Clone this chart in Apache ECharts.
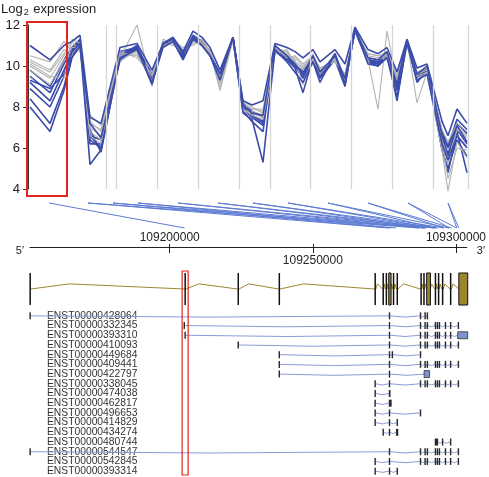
<!DOCTYPE html>
<html><head><meta charset="utf-8">
<script src="https://cdn.jsdelivr.net/npm/echarts@6/dist/echarts.min.js"></script>
<style>html,body{margin:0;padding:0;background:#fff}#c{width:489px;height:477px}</style>
</head><body><div id="c"></div>
<script>
// ---------- data ----------
const probePos = [2,22,36,44,52,62,73,92,109,124,135,145,155,165,174,182,192,205,215,224,235,247,259,267,275,285,292,307,317,327,340,350,359,369,379,389,399,414,420,429,439];
const groupBounds = [78,88,129,170,211,242,282,323,364,405,440];
const yTicks = [4,6,8,10,12];

const gray1 = [10.3,9.8,10.8,10.6,11.1,7.3,6.8,10.7,10.4,9.5,11.1,11.0,10.8,11.1,11.2,10.5,9.6,11.2,8.2,7.9,7.8,10.9,10.4,10.5,10.1,10.5,9.9,10.2,9.6,11.7,10.6,10.5,10.7,9.5,11.0,9.7,9.9,6.6,5.4,6.9,6.5];
const gray2 = [10.0,9.4,10.5,10.9,10.9,6.8,6.4,10.4,10.7,9.1,10.9,11.3,10.6,11.3,11.0,10.8,9.3,11.4,7.8,7.7,7.5,10.7,10.7,10.2,9.9,10.3,9.7,10.4,9.4,11.8,10.4,10.3,10.5,9.3,11.2,9.5,9.7,6.2,5.8,6.6,6.1];
const gray3 = [10.5,10.2,11.2,10.7,11.0,7.6,7.1,10.6,10.5,9.6,11.0,11.1,10.6,11.2,11.1,10.6,9.5,11.3,8.1,7.9,7.9,10.8,10.5,10.4,10.0,10.4,9.8,10.3,9.5,11.8,10.5,10.4,10.6,9.4,11.1,9.6,9.8,6.9,6.3,7.2,6.8];
const gray4 = [9.8,9.1,10.3,10.5,10.8,6.6,6.2,10.2,10.8,9.2,11.2,11.2,10.9,11.0,11.3,10.7,9.1,11.2,7.9,7.6,7.4,10.6,10.8,10.1,9.8,10.6,9.6,10.5,9.2,11.7,10.3,7.9,11.7,9.2,11.0,9.4,9.6,5.9,3.9,6.3,5.5];
const gray5 = [10.2,9.7,10.6,11.2,10.7,7.2,6.9,10.5,10.6,9.3,10.9,11.2,10.7,11.2,11.1,10.7,8.8,11.3,8.3,8.0,7.7,10.8,10.6,10.3,9.1,10.4,9.8,10.3,9.6,11.8,10.6,10.5,10.5,9.5,11.1,9.7,9.9,6.5,5.2,7.0,6.6];
const gray6 = [10.1,9.5,9.4,11.3,11.1,7.0,6.6,10.4,12.0,9.0,11.3,11.1,10.7,11.3,11.0,10.7,8.9,11.4,7.8,7.8,7.6,10.9,10.7,10.2,9.9,10.5,9.9,10.3,9.4,11.8,10.4,10.3,10.6,9.2,11.2,8.2,9.7,6.3,4.5,6.0,5.9];

const blue1 = [11.0,10.3,11.0,11.2,11.5,7.5,7.2,10.9,11.1,9.8,11.1,11.4,10.7,11.7,11.4,10.9,9.8,11.4,8.3,8.1,8.3,11.1,10.9,10.7,10.4,10.8,10.2,10.8,10.1,11.9,10.8,10.6,10.9,9.7,11.3,9.9,10.1,7.3,6.6,7.9,7.2];
const blue2 = [9.8,9.0,10.3,10.9,11.3,6.4,6.0,10.6,10.8,9.5,11.0,11.3,10.5,11.5,11.2,10.7,9.4,11.3,7.9,7.5,7.1,10.9,10.3,10.1,9.5,10.3,9.5,10.4,9.2,11.7,10.2,10.1,10.5,8.9,11.2,9.4,9.8,6.8,6.1,7.4,6.9];
const blue3 = [9.2,8.3,9.8,10.7,11.1,5.2,5.9,10.4,10.8,9.2,10.9,11.2,10.3,11.3,11.0,10.5,9.3,11.4,7.7,7.4,5.3,10.8,10.2,9.7,9.2,10.2,9.2,10.6,9.1,11.8,10.1,10.0,10.4,8.5,11.1,9.3,9.6,6.2,5.4,6.6,6.0];
const blue4 = [8.9,8.0,9.5,10.6,11.0,6.9,5.8,10.5,11.0,9.3,11.0,11.3,10.4,11.4,11.1,10.6,9.5,11.4,8.0,7.6,7.3,10.7,10.3,9.9,8.7,10.4,9.4,10.3,9.0,11.8,10.2,10.0,10.6,8.3,11.2,9.2,9.8,5.9,5.0,6.4,5.6];
const blue5 = [8.0,6.8,8.8,10.4,11.0,7.2,6.5,10.3,10.9,9.1,11.1,11.3,10.6,11.4,11.0,10.5,9.6,11.4,8.1,7.7,7.6,11.0,10.5,10.1,9.6,10.5,9.7,10.5,9.4,11.8,10.4,10.3,10.7,9.1,11.3,9.6,10.0,6.6,5.7,7.1,6.3];
const blue6 = [9.5,8.7,10.1,10.8,11.2,6.2,6.2,10.7,10.9,9.6,11.0,11.3,10.4,11.4,11.1,10.6,9.4,11.4,7.8,7.3,6.8,11.0,10.5,10.0,9.8,10.4,9.7,10.4,9.3,11.7,10.3,10.1,10.6,9.0,11.2,9.5,9.9,6.0,4.8,6.8,4.8];
const blue7 = [8.4,7.2,9.0,10.5,11.1,6.6,6.4,10.6,10.8,9.3,11.0,11.2,10.5,11.3,11.2,10.6,9.6,11.3,8.2,7.8,7.5,10.9,10.4,10.0,9.7,10.3,9.5,10.6,9.3,11.8,10.3,10.2,10.6,9.1,11.2,9.5,9.9,6.7,6.0,7.2,6.7];
const blue8 = [9.3,8.9,9.6,10.7,11.2,6.6,6.0,10.5,10.9,9.4,11.0,11.3,10.5,11.4,11.1,10.6,9.5,11.4,8.0,7.6,7.2,10.9,10.4,10.0,9.4,10.4,9.6,10.5,9.3,11.8,10.3,10.2,10.6,8.8,11.2,9.5,9.9,6.4,5.6,6.9,6.2];

const highlightProbes = [-1, 39];
const highlightExpr = [3.66, 12.15];

const genomeMin = 109151200, genomeMax = 109303800;
const rulerLabelsAbove = [109200000, 109300000];
const rulerLabelsBelow = [109250000];
const rulerTicks = [109200000, 109250000, 109300000];

// probe group centre -> genomic position of the exon it maps to
const connectors = [
  [21,109205200],
  [60,109276300],[60,109287100],
  [85,109277300],[85,109288800],
  [110,109279100],[110,109289500],
  [150,109287100],[150,109292300],
  [190,109288800],[190,109293000],
  [225,109289500],[225,109293700],
  [260,109292300],[260,109295800],
  [300,109293000],[300,109297600],
  [340,109295800],[340,109298500],
  [380,109297600],[380,109300300],
  [420,109300300],[420,109301000]
];

// gene model exons [start, end, kind] kind 1 = filled box
const geneExons = [
  [109151000,109151500,0],[109205000,109205500,0],[109223500,109224000,0],[109237800,109238300,0],
  [109271200,109271700,0],[109274000,109274500,0],[109275100,109275600,0],[109276200,109277000,1],
  [109277600,109278100,0],[109278900,109279400,0],[109287200,109287700,0],[109288200,109288700,0],
  [109289400,109290700,1],[109292200,109292700,0],[109293300,109293800,0],[109294700,109295200,0],
  [109297500,109298000,0],[109300600,109303700,1]
];
const highlightExon = [109204200, 109206300];

const transcriptNames = ['ENST00000428064','ENST00000332345','ENST00000393310','ENST00000410093','ENST00000449684','ENST00000409441','ENST00000422797','ENST00000338045','ENST00000474038','ENST00000462817','ENST00000496653','ENST00000414829','ENST00000434274','ENST00000480744','ENST00000544547','ENST00000542845','ENST00000393314'];
const tail3 = [[109287000,109287500,0],[109288600,109289100,0],[109289400,109289900,0],[109292200,109292700,0],[109292900,109293400,0],[109293600,109294100,0],[109295700,109296200,0],[109297500,109298000,0]];
const lastExon = [109300200,109300700,0];
const ex389 = [109276200,109276700,0];
const transcriptExons = [
  [[109151000,109151500,0], ex389, [109287000,109287500,0],[109288600,109289100,0],[109289400,109289900,0]],
  [[109204700,109205200,0], ex389, ...tail3, lastExon],
  [[109205000,109205500,0], ex389, ...tail3, [109300200,109303700,1]],
  [[109223500,109224000,0], ex389, ...tail3, lastExon],
  [[109237800,109238300,0], ex389, [109277200,109277700,0], [109287000,109287500,0]],
  [[109237800,109238300,0], ex389, ...tail3, lastExon],
  [[109237800,109238300,0], ex389, [109288500,109290400,1]],
  [[109271200,109271700,0], ex389, ...tail3, lastExon],
  [[109271200,109271700,0], [109276200,109276800,0]],
  [[109271200,109271700,0], [109276200,109277200,0]],
  [[109271200,109271700,0], ex389, [109287000,109287500,0]],
  [[109271200,109271700,0], ex389, [109278900,109279400,0]],
  [[109274000,109274500,0], ex389, [109278700,109279500,0]],
  [[109292200,109293400,0], [109294700,109295200,0], [109297500,109298000,0]],
  [[109151000,109151500,0], ex389, ...tail3, lastExon],
  [[109271200,109271700,0], ex389, ...tail3, lastExon],
  [[109271200,109271700,0], ex389, [109278900,109279400,0]]
];

// ---------- chart ----------
const BLUE = '#3a4bab', GRAY = '#b3b3b3', OLIVE = '#9c8630', CONN = '#5d7bd3', TLINE = '#8a9bd9', RED = '#e3241c';
const FONT = 'Liberation Sans';
const chart = echarts.init(document.getElementById('c'));
const plain = v => String(v);

function lineSeries(vals, color, width, z) {
  return { type: 'line', xAxisIndex: 0, yAxisIndex: 0, data: probePos.map((p, i) => [p, vals[i]]),
    symbol: 'none', clip: false, silent: true, z: z,
    lineStyle: { color: color, width: width }, emphasis: { disabled: true } };
}

const option = {
  animation: false,
  title: { text: '{a|Log}{b|2}{a| expression}', left: 1, top: 1, padding: 0,
    textStyle: { fontWeight: 'normal', rich: {
      a: { fontSize: 13, fontFamily: FONT, fontWeight: 'normal', color: '#222', lineHeight: 16 },
      b: { fontSize: 9, fontFamily: FONT, fontWeight: 'normal', color: '#222', lineHeight: 16, padding: [7, 1, 0, 1] } } } },
  grid: [
    { left: 28, right: 21, top: 25, height: 164 },
    { left: 28, right: 21, top: 203, height: 25 },
    { left: 30, right: 21, top: 246, height: 1 },
    { left: 30, right: 21, top: 273, height: 32 },
    { left: 30, right: 21, top: 311, height: 165 }
  ],
  xAxis: [
    { gridIndex: 0, type: 'value', min: 0, max: 440, show: false },
    { gridIndex: 1, type: 'value', min: 0, max: 440, show: false },
    { gridIndex: 2, type: 'value', min: genomeMin, max: genomeMax, position: 'top',
      axisLine: { show: false }, splitLine: { show: false },
      axisTick: { show: true, length: 3, customValues: rulerTicks, lineStyle: { color: '#222' } },
      axisLabel: { customValues: rulerLabelsAbove, formatter: plain, fontSize: 12, fontFamily: FONT, color: '#222', margin: 2 },
      name: '5′', nameLocation: 'start', nameGap: 6,
      nameTextStyle: { fontSize: 11, fontFamily: FONT, color: '#222', verticalAlign: 'top', lineHeight: 8 } },
    { gridIndex: 2, type: 'value', min: genomeMin, max: genomeMax, position: 'bottom',
      axisLine: { show: true, lineStyle: { color: '#222', width: 1 } }, splitLine: { show: false },
      axisTick: { show: true, length: 6, customValues: rulerTicks, lineStyle: { color: '#222' } },
      axisLabel: { customValues: rulerLabelsBelow, formatter: plain, fontSize: 12, fontFamily: FONT, color: '#222', margin: 8 },
      name: '3′', nameLocation: 'end', nameGap: 10,
      nameTextStyle: { fontSize: 11, fontFamily: FONT, color: '#222', verticalAlign: 'top', lineHeight: 8 } },
    { gridIndex: 3, type: 'value', min: genomeMin, max: genomeMax, show: false },
    { gridIndex: 4, type: 'value', min: genomeMin, max: genomeMax, show: false }
  ],
  yAxis: [
    { gridIndex: 0, type: 'value', min: 4, max: 12, interval: 2,
      axisLine: { show: true, lineStyle: { color: '#333', width: 1 } },
      axisTick: { show: true, length: 5, lineStyle: { color: '#333' } },
      splitLine: { show: false },
      axisLabel: { fontSize: 13, fontFamily: FONT, color: '#222', margin: 8 } },
    { gridIndex: 1, type: 'value', min: 0, max: 1, show: false },
    { gridIndex: 2, type: 'value', min: 0, max: 1, show: false },
    { gridIndex: 3, type: 'value', min: 0, max: 1, show: false },
    { gridIndex: 4, type: 'category', data: transcriptNames, inverse: true,
      axisLine: { show: false }, axisTick: { show: false }, splitLine: { show: false },
      axisLabel: { inside: true, interval: 0, margin: 17, fontSize: 10.3, fontFamily: FONT, color: '#333' } }
  ],
  series: [
    { type: 'line', xAxisIndex: 0, yAxisIndex: 0, data: [], z: 1, silent: true,
      markLine: { silent: true, symbol: ['none', 'none'], label: { show: false }, animation: false,
        lineStyle: { color: '#d6d6d6', width: 1.3, type: 'solid' },
        emphasis: { disabled: true },
        data: groupBounds.map(v => ({ xAxis: v })) } },
    lineSeries(blue2, BLUE, 1.6, 2),
    lineSeries(blue4, BLUE, 1.6, 2),
    lineSeries(blue6, BLUE, 1.6, 2),
    lineSeries(blue8, BLUE, 1.6, 2),
    lineSeries(blue7, BLUE, 1.6, 2),
    lineSeries(gray1, GRAY, 1.1, 3),
    lineSeries(gray2, GRAY, 1.1, 3),
    lineSeries(gray3, GRAY, 1.1, 3),
    lineSeries(gray4, GRAY, 1.1, 3),
    lineSeries(gray5, GRAY, 1.1, 3),
    lineSeries(gray6, GRAY, 1.1, 3),
    lineSeries(blue1, BLUE, 1.6, 4),
    lineSeries(blue3, BLUE, 1.6, 4),
    lineSeries(blue5, BLUE, 1.6, 4),
    // red highlight box, top panel
    { type: 'custom', xAxisIndex: 0, yAxisIndex: 0, clip: false, z: 10, silent: true,
      data: [[highlightProbes[0], highlightExpr[1]]], encode: { x: 0, y: 1 },
      renderItem: (p, api) => {
        const a = api.coord([highlightProbes[0], highlightExpr[1]]);
        const b = api.coord([highlightProbes[1], highlightExpr[0]]);
        return { type: 'rect', shape: { x: a[0], y: a[1], width: b[0] - a[0], height: b[1] - a[1] },
          style: { fill: 'none', stroke: RED, lineWidth: 2 } };
      } },
    // connectors probes -> genome
    { type: 'custom', xAxisIndex: 1, yAxisIndex: 1, clip: false, z: 3, silent: true,
      data: connectors.map(c => [c[0], 1, c[1]]), encode: { x: 0, y: 1 },
      renderItem: (p, api) => {
        const top = api.coord([api.value(0), 1]);
        const yb = api.coord([api.value(0), 0])[1];
        let xb = null;
        try { xb = chart.convertToPixel({ xAxisIndex: 2 }, api.value(2)); } catch (e) { xb = null; }
        if (xb == null || isNaN(xb)) return null;
        return { type: 'line', shape: { x1: top[0], y1: top[1], x2: xb, y2: yb },
          style: { stroke: CONN, lineWidth: 1 } };
      } },
    // gene model
    { type: 'custom', xAxisIndex: 4, yAxisIndex: 3, clip: false, z: 3, silent: true,
      data: [[genomeMin, 0]], encode: { x: 0, y: 1 },
      renderItem: (p, api) => {
        const yMid = api.coord([genomeMin, 0.5])[1], yPk = api.coord([genomeMin, 0.66])[1];
        const yT = api.coord([genomeMin, 1])[1], yB = api.coord([genomeMin, 0])[1];
        const pts = [];
        const kids = [];
        geneExons.forEach((e, i) => {
          const x0 = api.coord([e[0], 0])[0];
          if (i > 0) {
            const pe = api.coord([geneExons[i - 1][1], 0])[0];
            pts.push([pe, yMid], [pe + (x0 - pe) * 0.25, yPk], [x0, yMid]);
          }
        });
        kids.push({ type: 'polyline', shape: { points: pts }, style: { stroke: OLIVE, lineWidth: 1, fill: null } });
        geneExons.forEach(e => {
          const x0 = api.coord([e[0], 0])[0], x1 = api.coord([e[1], 0])[0];
          const w = Math.max(x1 - x0, 1.5);
          kids.push({ type: 'rect', shape: { x: x0, y: yT, width: w, height: yB - yT },
            style: e[2] ? { fill: OLIVE, stroke: '#111', lineWidth: 1 } : { fill: '#111' } });
        });
        return { type: 'group', children: kids };
      } },
    // transcripts
    { type: 'custom', xAxisIndex: 5, yAxisIndex: 4, clip: false, z: 3, silent: true,
      data: transcriptNames.map((n, i) => [genomeMin, i]), encode: { x: 0, y: 1 },
      renderItem: (p, api) => {
        const row = p.dataIndex;
        const exs = transcriptExons[row];
        const y = api.coord([genomeMin, row])[1];
        const kids = [];
        for (let i = 1; i < exs.length; i++) {
          const a = api.coord([exs[i - 1][1], row])[0], b = api.coord([exs[i][0], row])[0];
          kids.push({ type: 'bezierCurve', shape: { x1: a, y1: y, x2: b, y2: y, cpx1: (a + b) / 2, cpy1: y + 2.5 },
            style: { stroke: TLINE, lineWidth: 1, fill: null } });
        }
        exs.forEach(e => {
          const x0 = api.coord([e[0], row])[0], x1 = api.coord([e[1], row])[0];
          const w = Math.max(x1 - x0, 1.4);
          kids.push({ type: 'rect', shape: { x: x0, y: y - 3.5, width: w, height: 7 },
            style: e[2] ? { fill: '#7d92cc', stroke: '#333', lineWidth: 0.8 } : { fill: '#2a2a2a' } });
        });
        return { type: 'group', children: kids };
      } },
    // red highlight box, lower panel
    { type: 'custom', xAxisIndex: 4, yAxisIndex: 3, clip: false, z: 10, silent: true,
      data: [[highlightExon[0], 1]], encode: { x: 0, y: 1 },
      renderItem: (p, api) => {
        const a = api.coord([highlightExon[0], 1.0625]);
        const b = api.coord([highlightExon[1], -5.3125]);
        return { type: 'rect', shape: { x: a[0], y: a[1], width: b[0] - a[0], height: b[1] - a[1] },
          style: { fill: 'none', stroke: RED, lineWidth: 1.2 } };
      } }
  ]
};
chart.setOption(option);
chart.setOption(option);
</script></body></html>
